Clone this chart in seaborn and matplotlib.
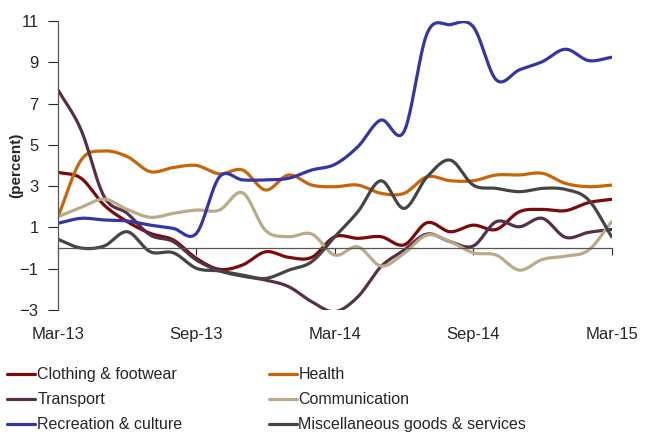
import numpy as np
import pandas as pd
import matplotlib
matplotlib.use('Agg')
import matplotlib.pyplot as plt
import seaborn as sns
from matplotlib.lines import Line2D

# monthly data, Mar-13 .. Mar-15 (percent)
months = pd.date_range('2013-03-01', '2015-03-01', freq='MS').strftime('%b-%y').tolist()

clothing = [3.67, 3.38, 2.08, 1.28, 0.71, 0.39, -0.5, -1.03, -0.82, -0.18, -0.45, -0.45,
            0.55, 0.47, 0.55, 0.15, 1.23, 0.79, 1.11, 0.9, 1.76, 1.87, 1.81, 2.2, 2.36]
health = [1.52, 4.26, 4.7, 4.43, 3.7, 3.9, 4.0, 3.59, 3.78, 2.81, 3.54, 3.05,
          2.97, 3.05, 2.65, 2.65, 3.45, 3.26, 3.26, 3.54, 3.54, 3.62, 3.13, 2.97, 3.05]
transport = [7.66, 5.72, 2.49, 1.68, 0.63, 0.31, -0.58, -1.1, -1.36, -1.55, -1.87, -2.6,
             -3.08, -2.36, -0.9, -0.1, 0.68, 0.31, 0.1, 1.28, 1.03, 1.44, 0.52, 0.76, 0.9]
communication = [1.52, 1.97, 2.37, 1.87, 1.49, 1.68, 1.84, 1.84, 2.68, 0.85, 0.55, 0.68,
                 -0.34, 0.06, -0.87, -0.26, 0.63, 0.31, -0.23, -0.34, -1.07, -0.55, -0.39, -0.1, 1.28]
recreation = [1.2, 1.44, 1.36, 1.31, 1.11, 0.95, 0.71, 3.45, 3.3, 3.3, 3.38, 3.78,
              4.05, 4.91, 6.2, 5.64, 10.4, 10.82, 10.72, 8.14, 8.63, 9.03, 9.63, 9.08, 9.24]
misc = [0.42, 0.0, 0.1, 0.79, -0.18, -0.23, -0.98, -1.11, -1.31, -1.47, -1.07, -0.66,
        0.55, 1.76, 3.26, 1.92, 3.45, 4.26, 3.05, 2.89, 2.73, 2.89, 2.84, 2.33, 0.55]

series = {
    'Clothing & footwear': (clothing, '#7b0a0a'),
    'Health': (health, '#c8640a'),
    'Transport': (transport, '#553049'),
    'Communication': (communication, '#b9ab87'),
    'Recreation & culture': (recreation, '#3535a3'),
    'Miscellaneous goods & services': (misc, '#454545'),
}


def smooth(y, n=12):
    # Catmull-Rom curve through the monthly points (like a smoothed line)
    y = np.asarray(y, float)
    p = np.concatenate([[2 * y[0] - y[1]], y, [2 * y[-1] - y[-2]]])
    xs, ys = [], []
    t = np.linspace(0, 1, n, endpoint=False)
    for i in range(len(y) - 1):
        p0, p1, p2, p3 = p[i], p[i + 1], p[i + 2], p[i + 3]
        seg = 0.5 * ((2 * p1) + (-p0 + p2) * t + (2 * p0 - 5 * p1 + 4 * p2 - p3) * t ** 2
                     + (-p0 + 3 * p1 - 3 * p2 + p3) * t ** 3)
        xs.extend(i + t)
        ys.extend(seg)
    xs.append(len(y) - 1)
    ys.append(y[-1])
    return np.array(xs), np.array(ys)


sns.set_style('white')
plt.rcParams['font.family'] = ['Liberation Sans', 'DejaVu Sans']

fig = plt.figure(figsize=(6.46, 4.36), dpi=100)
ax = fig.add_axes([0.0898, 0.289, 0.857, 0.663])

for name, (vals, col) in series.items():
    sx, sy = smooth(vals)
    sns.lineplot(x=sx, y=sy, ax=ax, color=col, lw=2.3, sort=False, estimator=None)

ax.set_xlim(0, len(months) - 1)
ax.set_ylim(-3, 11)
ax.set_yticks(np.arange(-3, 12, 2))
ax.tick_params(axis='y', labelsize=12, length=7, width=0.8, direction='out', left=True, pad=7)
ax.set_ylabel('(percent)', fontsize=11, fontweight='bold', labelpad=-3)

# category axis crosses at zero
ax.spines['top'].set_visible(False)
ax.spines['right'].set_visible(False)
ax.spines['bottom'].set_position(('data', 0))
for s in ['left', 'bottom']:
    ax.spines[s].set_color('#555555')
    ax.spines[s].set_linewidth(0.9)
xt = list(range(0, len(months), 6))
ax.set_xticks(xt)
ax.tick_params(axis='x', labelbottom=False, bottom=True, length=5, width=0.8, direction='out')

sec = ax.secondary_xaxis('bottom')
sec.set_xticks(xt)
sec.set_xticklabels([months[i] for i in xt])
sec.tick_params(length=0, labelsize=12, pad=12.5)
sec.spines['bottom'].set_visible(False)

order = ['Clothing & footwear', 'Transport', 'Recreation & culture',
         'Health', 'Communication', 'Miscellaneous goods & services']
handles = [Line2D([], [], color=series[k][1], lw=2.3) for k in order]
fig.legend(handles, order, loc='upper left', bbox_to_anchor=(0.0015, 0.172), ncol=2,
           frameon=False, fontsize=11.5, handlelength=1.75, handletextpad=0.12,
           columnspacing=5.4, labelspacing=0.62, borderaxespad=0)

fig.savefig('out.png', dpi=100)
